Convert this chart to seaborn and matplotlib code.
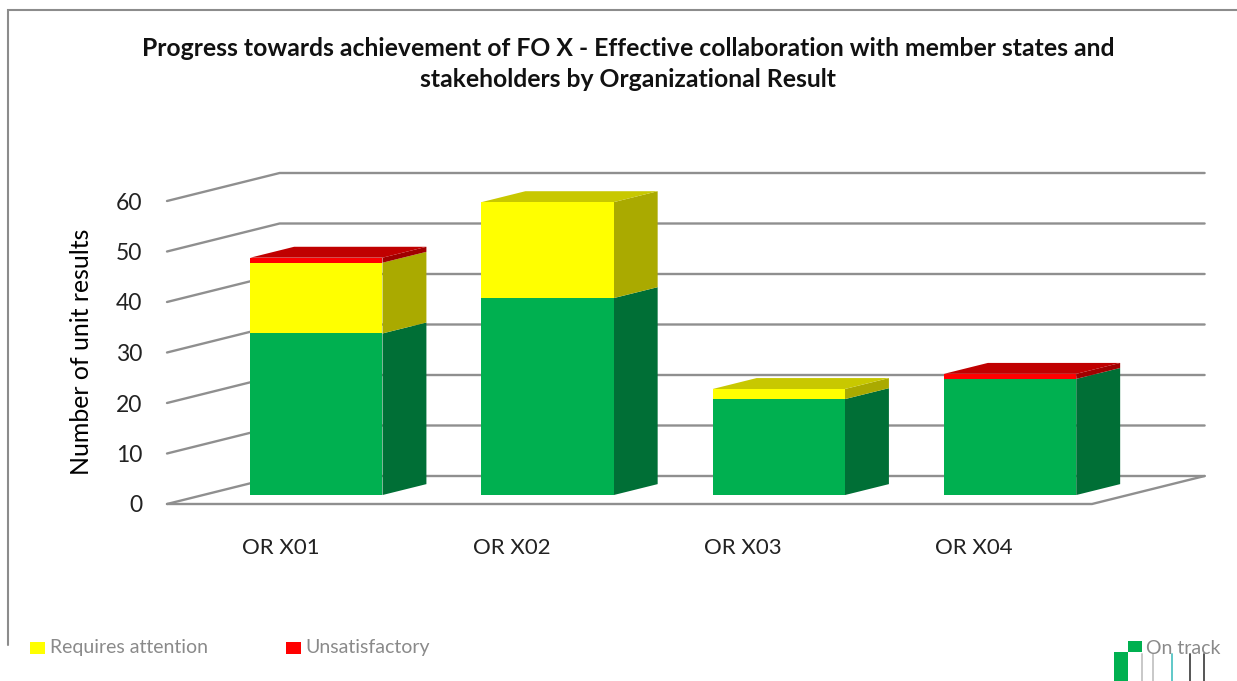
import matplotlib
matplotlib.use('Agg')
import matplotlib.pyplot as plt
from matplotlib.lines import Line2D
from matplotlib.patches import Rectangle
import numpy as np
import seaborn as sns

categories = ['OR X01', 'OR X02', 'OR X03', 'OR X04']
on_track = [32, 39, 19, 23]
requires_attention = [14, 19, 2, 0]
unsatisfactory = [1, 0, 0, 1]
y_ticks = [0, 10, 20, 30, 40, 50, 60]
title = ('Progress towards achievement of FO X - Effective collaboration with member states and\n'
         'stakeholders by Organizational Result')

W, H = 1237, 681
GRID = '#8f8f8f'
# front, side, top shade of each series
SHADES = {
    'green': ('#00B050', '#006F36', '#006F36'),
    'yellow': ('#FFFF00', '#AAAA00', '#C8C800'),
    'red': ('#FF0000', '#A00000', '#C00000'),
}
# one unit of depth in data coordinates (floor front edge to back wall)
DEPTH_X = 112.5 / 231
DEPTH_Y = 28 / 5.05
BAR_FRONT, BAR_BACK = 0.32, 0.71
X_MIN, X_MAX = -0.49, 3.51

sns.set_style('white')
plt.rcParams['font.family'] = ['Lato', 'DejaVu Sans']


def project(x, v, d):
    return x + d * DEPTH_X, v + d * DEPTH_Y


def draw_walls(ax):
    for v in y_ticks:
        px, py = zip(project(X_MIN, v, 0), project(X_MIN, v, 1), project(X_MAX, v, 1))
        if v == 0:
            # floor outline goes round the other way too
            fx, fy = zip(project(X_MIN, 0, 0), project(X_MAX, 0, 0), project(X_MAX, 0, 1))
            ax.plot(fx, fy, color=GRID, lw=1.7, zorder=1, clip_on=False, solid_joinstyle='miter')
        ax.plot(px, py, color=GRID, lw=1.7, zorder=1, clip_on=False, solid_joinstyle='miter')


def draw_stack(ax, values, bottoms, shade, is_top):
    front, side, top = SHADES[shade]
    sns.barplot(x=categories, y=values, bottom=bottoms, color=front, saturation=1,
                width=0.572, ax=ax, zorder=3, linewidth=0, edgecolor='none')
    for bar, val, low, on_top in zip(ax.containers[-1], values, bottoms, is_top):
        x0, x1 = bar.get_x(), bar.get_x() + bar.get_width()
        dx, dy = project(0, 0, BAR_FRONT)
        bar.set_x(x0 + dx)
        bar.set_y(low + dy)
        bar.set_clip_on(False)
        if val == 0:
            continue
        hi = low + val
        side_pts = [project(x1, low, BAR_FRONT), project(x1, low, BAR_BACK),
                    project(x1, hi, BAR_BACK), project(x1, hi, BAR_FRONT)]
        ax.fill(*zip(*side_pts), color=side, lw=0, zorder=2.9, clip_on=False)
        if on_top:
            top_pts = [project(x0, hi, BAR_FRONT), project(x1, hi, BAR_FRONT),
                       project(x1, hi, BAR_BACK), project(x0, hi, BAR_BACK)]
            ax.fill(*zip(*top_pts), color=top, lw=0, zorder=2.9, clip_on=False)


def add_legend(fig):
    for x, y, w, h, color in [(30, 642, 15, 12, SHADES['yellow'][0]),
                              (286, 642, 15, 12, SHADES['red'][0]),
                              (1128, 641, 14, 11, SHADES['green'][0]),
                              (1114, 652, 14, 29, SHADES['green'][0])]:
        fig.add_artist(Rectangle((x / W, 1 - (y + h) / H), w / W, h / H, color=color, lw=0))
    for x, label in [(50, 'Requires attention'), (305, 'Unsatisfactory'), (1146, 'On track')]:
        fig.text(x / W, 1 - 648 / H, label, fontsize=14, color='#8a8a8a', va='center')
    for x, color in [(1142, '#c8c8c8'), (1153, '#c8c8c8'), (1172, '#5fc8c8'),
                     (1190, '#555555'), (1204, '#555555')]:
        fig.add_artist(Line2D([x / W, x / W], [0, 1 - 654 / H], color=color, lw=1.4))


def run():
    fig = plt.figure(figsize=(W / 100, H / 100), dpi=100, facecolor='white')
    ax = fig.add_axes([167 / W, 1 - 504 / H, 925 / W, 303 / H])
    ax.patch.set_visible(False)

    bottoms = np.zeros(len(categories))
    stacks = [(on_track, 'green'), (requires_attention, 'yellow'), (unsatisfactory, 'red')]
    totals = np.sum([s[0] for s in stacks], axis=0)
    for values, shade in stacks:
        is_top = (bottoms + np.array(values) == totals)
        draw_stack(ax, values, bottoms.copy(), shade, is_top)
        bottoms = bottoms + np.array(values)

    draw_walls(ax)
    ax.set_xlim(X_MIN, X_MAX)
    ax.set_ylim(0, 60)
    ax.set_yticks(y_ticks)
    ax.tick_params(axis='y', length=0, pad=18, labelsize=16.5, labelcolor='#222222')
    ax.tick_params(axis='x', length=0, pad=24.5, labelsize=16, labelcolor='#222222')
    ax.set_ylabel('Number of unit results', fontsize=17.9, color='black')
    ax.yaxis.set_label_coords((93 - 167) / 925, (504 - 352) / 303)
    sns.despine(ax=ax, left=True, bottom=True)

    fig.text(628 / W, 1 - 64 / H, title, ha='center', va='center', fontsize=17.8,
             fontweight='bold', color='#111111', linespacing=1.43)

    # chart frame, open on the right and at the bottom
    fig.add_artist(Line2D([8 / W, 8 / W, 1], [1 - 645 / H, 1 - 10 / H, 1 - 10 / H],
                          color='#8c8c8c', lw=1.5, solid_joinstyle='miter'))
    add_legend(fig)
    fig.savefig('out.png', dpi=100, facecolor='white')


if __name__ == '__main__':
    run()
